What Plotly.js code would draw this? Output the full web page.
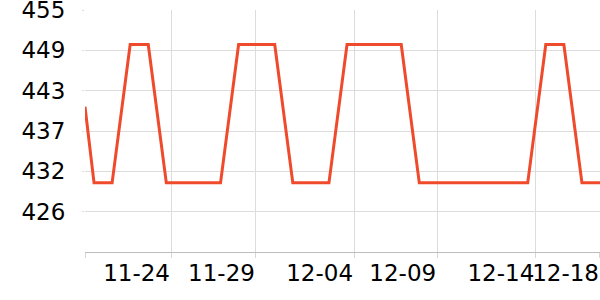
<!DOCTYPE html>
<html>
<head>
<meta charset="utf-8">
<script src="https://cdn.plot.ly/plotly-3.0.1.min.js"></script>
<style>html,body{margin:0;padding:0;background:#fff;}#chart{width:600px;height:300px;}</style>
</head>
<body>
<div id="chart"></div>
<script>
// x positions in day units (first reading is a partial step at the left edge)
const dayIndex = [-0.5,0,1,2,3,4,5,6,7,8,9,10,11,12,13,14,15,16,17,18,19,20,21,22,23,24,25,26,27,28];
const values   = [441,430,430,450,450,430,430,430,430,450,450,450,430,430,430,450,450,450,450,430,430,430,430,430,430,430,450,450,430,430];
const tickPositions = [-0.5, 4.26, 8.96, 14.39, 18.99, 24.42, 27.999];
const tickLabels    = ['', '11-24', '11-29', '12-04', '12-09', '12-14', '12-18'];
const yTickVals  = [425.833, 431.667, 437.5, 443.333, 449.167, 454.999];
const yTickText  = ['426', '432', '437', '443', '449', '455'];

const trace = {
  x: dayIndex, y: values, type: 'scatter', mode: 'lines',
  line: {color: '#ef4a2b', width: 3},
  hoverinfo: 'skip', cliponaxis: true
};
const layout = {
  width: 600, height: 300,
  margin: {l: 85, r: 0, t: 10, b: 48},
  paper_bgcolor: '#fff', plot_bgcolor: '#fff',
  showlegend: false,
  font: {family: 'DejaVu Sans', size: 23, color: '#000'},
  xaxis: {
    type: 'linear', range: [-0.5, 28], fixedrange: true, automargin: false,
    tickmode: 'array', tickvals: tickPositions, ticktext: tickLabels,
    tickangle: 0, ticklabelposition: 'outside left', ticklabeloverflow: 'allow',
    ticks: 'outside', ticklen: 5, tickcolor: '#d6d6d6', tickwidth: 1,
    showgrid: true, gridcolor: '#dcdcdc', gridwidth: 1,
    showline: true, linecolor: '#bdbdbd', linewidth: 1,
    zeroline: false,
    tickfont: {family: 'DejaVu Sans', size: 23, color: '#000'}
  },
  yaxis: {
    range: [420, 455], fixedrange: true, automargin: false,
    tickmode: 'array', tickvals: yTickVals, ticktext: yTickText,
    ticklabeloverflow: 'allow',
    ticks: 'outside', ticklen: 2, tickcolor: '#dcdcdc',
    ticklabelstandoff: 12,
    showgrid: true, gridcolor: '#dcdcdc', gridwidth: 1,
    showline: false, zeroline: false,
    tickfont: {family: 'DejaVu Sans', size: 23, color: '#000'}
  }
};
Plotly.newPlot('chart', [trace], layout, {staticPlot: true, displayModeBar: false});
</script>
</body>
</html>
